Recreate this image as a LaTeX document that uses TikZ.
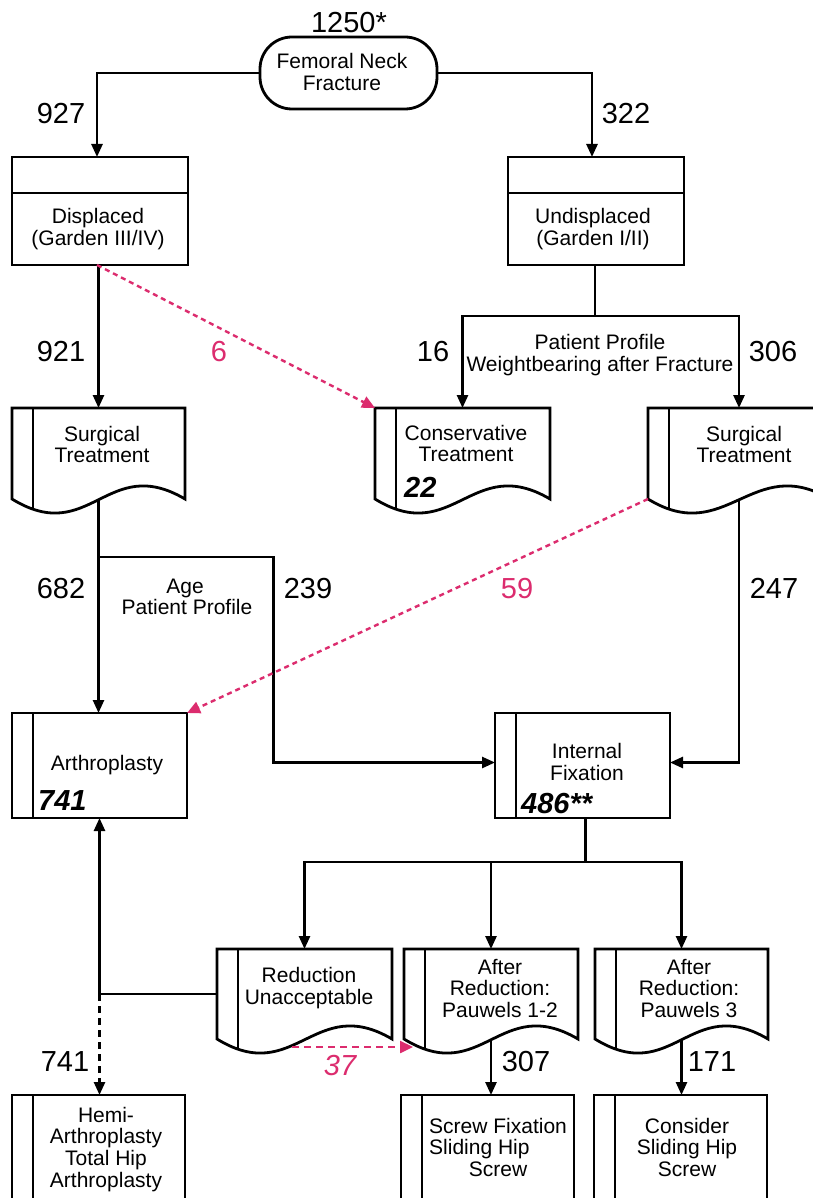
\documentclass[tikz,border=0pt]{standalone}
\usepackage{fontspec}
\setmainfont{Liberation Sans}
\usetikzlibrary{arrows.meta,calc}
\definecolor{pk}{RGB}{220,44,110}
\newcommand{\docshape}[1]{%
  \draw[bx] (#1.south west) -- (#1.north west) -- (#1.north east) -- (#1.south east)
    .. controls +(-78,-46) and +(78,48) .. (#1.south west) -- cycle;
  \draw[bx] ($(#1.north west)+(21,0)$) -- ($(#1.south west)+(21,10)$);}
\newcommand{\barline}[1]{%
  \draw[bx] ($(#1.north west)+(21,0)$) -- ($(#1.south west)+(21,0)$);}
\begin{document}
\begin{tikzpicture}[x=1pt,y=-1pt,
  ln/.style={line width=2.6pt},
  bx/.style={line width=2.8pt},
  arr/.style={ln, -{Triangle[length=13pt,width=11pt]}},
  parr/.style={line width=2.4pt, draw=pk, dash pattern=on 5pt off 4pt, -{Triangle[length=13pt,width=12pt,fill=pk]}},
  t/.style={font=\fontsize{21}{21}\selectfont, inner sep=0pt, anchor=base},
  n/.style={font=\fontsize{29}{29}\selectfont, inner sep=0pt, anchor=base},
  bn/.style={font=\fontsize{29}{29}\selectfont\bfseries\itshape, inner sep=0pt, anchor=base west},
  pn/.style={n, text=pk},
  frame/.style={draw=none, inner sep=0pt, outer sep=0pt, anchor=north west}]
\fill[white] (0,0) rectangle (812,1198);
\useasboundingbox (0,0) rectangle (812,1198);

% ---------- shapes ----------
\node[frame, draw, bx, rounded corners=32pt, minimum width=177pt, minimum height=72pt] (term) at (260,37) {};
\node[frame, draw, bx, minimum width=176pt, minimum height=108pt] (disp) at (12,157) {};
\node[frame, draw, bx, minimum width=176pt, minimum height=108pt] (undisp) at (508,157) {};
\draw[bx] ($(disp.north west)+(0,36)$) -- ($(disp.north east)+(0,36)$);
\draw[bx] ($(undisp.north west)+(0,36)$) -- ($(undisp.north east)+(0,36)$);

\node[frame, minimum width=173pt, minimum height=91pt] (surgL) at (12,408) {};
\node[frame, minimum width=175pt, minimum height=91pt] (cons) at (375,408) {};
\node[frame, minimum width=182pt, minimum height=91pt] (surgR) at (648,408) {};
\docshape{surgL}\docshape{cons}\docshape{surgR}

\node[frame, draw, bx, minimum width=175pt, minimum height=105pt] (arth) at (12,713) {};
\node[frame, draw, bx, minimum width=175pt, minimum height=105pt] (intfix) at (495,713) {};
\barline{arth}\barline{intfix}

\node[frame, minimum width=175pt, minimum height=90pt] (red) at (217,949) {};
\node[frame, minimum width=174pt, minimum height=90pt] (p12) at (404,949) {};
\node[frame, minimum width=173pt, minimum height=90pt] (p3) at (595,949) {};
\docshape{red}\docshape{p12}\docshape{p3}

\node[frame, draw, bx, minimum width=173pt, minimum height=130pt] (hemi) at (12,1095) {};
\node[frame, draw, bx, minimum width=173pt, minimum height=130pt] (screw) at (401,1095) {};
\node[frame, draw, bx, minimum width=173pt, minimum height=130pt] (consd) at (594,1095) {};
\barline{hemi}\barline{screw}\barline{consd}

% ---------- connectors ----------
\draw[arr] (term.west) -| ([xshift=-3pt]disp.north);
\draw[arr] (term.east) -| ([xshift=-4pt]undisp.north);
\draw[arr] (disp.south -| surgL.north) -- (surgL.north);
\coordinate (jU) at ($(undisp.south)+(-1,51)$);
\draw[ln] (undisp.south -| jU) -- (jU);
\draw[arr] (jU) -| (cons.north);
\draw[arr] (jU) -| (surgR.north);
\draw[parr] ([xshift=-3pt]disp.south) -- (cons.north west);

\coordinate (jL) at ($(surgL.south)+(0,58)$);
\coordinate (jA) at ($(jL)+(175,0)$);
\draw[ln] (surgL.south) -- (jL);
\draw[arr] (jL) -- (jL |- arth.north);
\draw[arr] (jL) -- (jA) |- ([yshift=3pt]intfix.west);
\draw[arr] (surgR.south) |- ([yshift=3pt]intfix.east);
\draw[parr] (surgR.south west) -- (arth.north east);

\coordinate (jI) at ($(intfix.south)+(3,44)$);
\draw[ln] (intfix.south -| jI) -- (jI);
\draw[arr] (jI) -| (red.north);
\draw[arr] (jI) -| (p3.north);
\draw[arr] (jI -| p12.north) -- (p12.north);
\coordinate (jR) at (red.west -| arth.south);
\draw[arr] (red.west) -| (arth.south);
\draw[arr, dash pattern=on 7pt off 5pt] (jR) -- (jR |- hemi.north);
\draw[arr] (p12.south) -- (p12.south |- screw.north);
\draw[arr] (p3.south) -- (p3.south |- consd.north);
\coordinate (c37a) at ($(red.south west)+(75,8)$);
\coordinate (c37b) at ($(p12.south west)+(9,8)$);
\draw[parr, dash pattern=on 7pt off 5pt] (c37a) -- (c37b);

% ---------- texts ----------
\node[n] (n1250) at (349,33) {1250*};
\node[t] (tf1) at (342,69) {Femoral Neck};
\node[t] (tf2) at (342,91) {Fracture};
\node[n] (n927) at (61,124) {927};
\node[n] (n322) at (626,124) {322};
\node[t] (td1) at (98,224) {Displaced};
\node[t] (td2) at (98,246) {(Garden III/IV)};
\node[t] (tu1) at (593,224) {Undisplaced};
\node[t] (tu2) at (593,246) {(Garden I/II)};
\node[n] (n921) at (61,361) {921};
\node[pn] (n6) at (219,361) {6};
\node[n] (n16) at (433,361) {16};
\node[n] (n306) at (773,361) {306};
\node[t] (tp1) at (600,349) {Patient Profile};
\node[t] (tp2) at (600,371) {Weightbearing after Fracture};
\node[t] (ts1) at (102,441) {Surgical};
\node[t] (ts2) at (102,462) {Treatment};
\node[t] (tc1) at (466,440) {Conservative};
\node[t] (tc2) at (466,461) {Treatment};
\node[bn] (n22) at (404,497) {22};
\node[t] (tr1) at (744,441) {Surgical};
\node[t] (tr2) at (744,462) {Treatment};
\node[n] (n682) at (61,598) {682};
\node[t] (ta1) at (185,593) {Age};
\node[t] (ta2) at (187,614) {Patient Profile};
\node[n] (n239) at (308,598) {239};
\node[pn] (n59) at (517,598) {59};
\node[n] (n247) at (774,598) {247};
\node[t] (tar) at (107,770) {Arthroplasty};
\node[bn] (n741a) at (38,810) {741};
\node[t] (ti1) at (587,758) {Internal};
\node[t] (ti2) at (587,780) {Fixation};
\node[bn] (n486) at (521,813) {486**};
\node[t] (tru1) at (309,982) {Reduction};
\node[t] (tru2) at (309,1004) {Unacceptable};
\node[t] (tq1) at (500,974) {After};
\node[t] (tq2) at (500,995) {Reduction:};
\node[t] (tq3) at (500,1017) {Pauwels 1-2};
\node[t] (tw1) at (689,974) {After};
\node[t] (tw2) at (689,995) {Reduction:};
\node[t] (tw3) at (689,1017) {Pauwels 3};
\node[n] (n741b) at (65,1071) {741};
\node[pn, font=\fontsize{29}{29}\selectfont\itshape] (n37) at (340,1075) {37};
\node[n] (n307) at (526,1071) {307};
\node[n] (n171) at (712,1071) {171};
\node[t] (th1) at (106,1122) {Hemi-};
\node[t] (th2) at (106,1143) {Arthroplasty};
\node[t] (th3) at (106,1165) {Total Hip};
\node[t] (th4) at (106,1187) {Arthroplasty};
\node[t, anchor=base west] (tsf1) at (429,1133) {Screw Fixation};
\node[t, anchor=base west] (tsf2) at (429,1154) {Sliding Hip};
\node[t] (tsf3) at (498,1176) {Screw};
\node[t] (tcs1) at (687,1133) {Consider};
\node[t] (tcs2) at (687,1154) {Sliding Hip};
\node[t] (tcs3) at (687,1176) {Screw};
\end{tikzpicture}
\end{document}
